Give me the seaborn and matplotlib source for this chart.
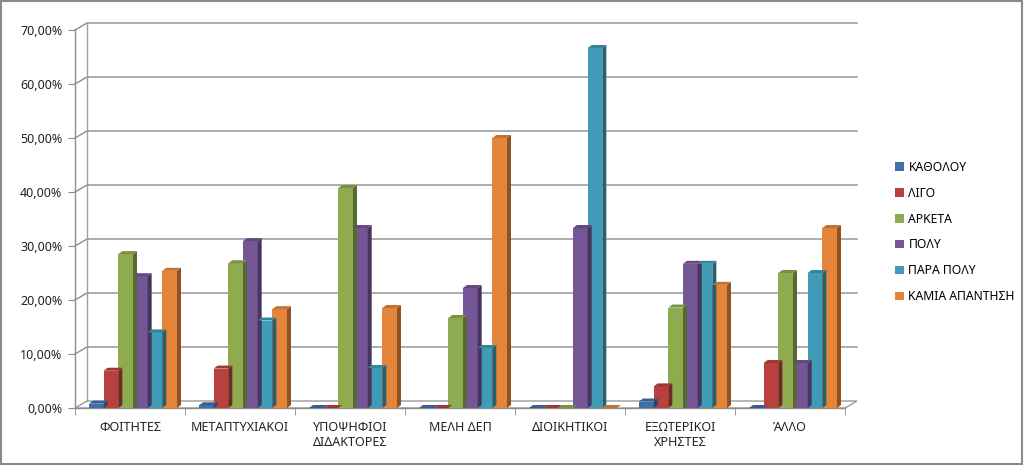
import pandas as pd
import matplotlib.pyplot as plt
import seaborn as sns
from matplotlib.patches import Polygon, Rectangle
from matplotlib.lines import Line2D
from matplotlib.ticker import FuncFormatter
import matplotlib.colors as mcolors

categories = ['ΦΟΙΤΗΤΕΣ', 'ΜΕΤΑΠΤΥΧΙΑΚΟΙ', 'ΥΠΟΨΗΦΙΟΙ\nΔΙΔΑΚΤΟΡΕΣ', 'ΜΕΛΗ ΔΕΠ',
              'ΔΙΟΙΚΗΤΙΚΟΙ', 'ΕΞΩΤΕΡΙΚΟΙ\nΧΡΗΣΤΕΣ', 'ΆΛΛΟ']
series = ['ΚΑΘΟΛΟΥ', 'ΛΙΓΟ', 'ΑΡΚΕΤΑ', 'ΠΟΛΥ', 'ΠΑΡΑ ΠΟΛΥ', 'ΚΑΜΙΑ ΑΠΑΝΤΗΣΗ']

katholou = [0.008, 0.005, 0.0, 0.0, 0.0, 0.012, 0.0]
ligo = [0.069, 0.073, 0.0, 0.0, 0.0, 0.040, 0.0833]
arketa = [0.285, 0.268, 0.4074, 0.1667, 0.0, 0.186, 0.25]
poly = [0.244, 0.309, 0.3333, 0.2222, 0.3333, 0.267, 0.0833]
para_poly = [0.140, 0.162, 0.0741, 0.1111, 0.6667, 0.267, 0.25]
kamia = [0.254, 0.183, 0.1852, 0.50, 0.0, 0.228, 0.3333]

colors = ['#3F6FAD', '#B8413E', '#8FAB4F', '#745696', '#3F9BB6', '#E5853A']

values = [katholou, ligo, arketa, poly, para_poly, kamia]
rows = []
for s, vals in zip(series, values):
    for c, v in zip(categories, vals):
        rows.append({'Κατηγορία': c, 'Απάντηση': s, 'Ποσοστό': v})
df = pd.DataFrame(rows)

plt.rcParams['font.family'] = ['Noto Sans', 'DejaVu Sans']
fig = plt.figure(figsize=(10.24, 4.65), dpi=100)
ax = fig.add_axes([75 / 1024, 57 / 465, 770 / 1024, 378 / 465])

sns.barplot(data=df, x='Κατηγορία', y='Ποσοστό', hue='Απάντηση', order=categories,
            hue_order=series, palette=colors, saturation=1, width=0.8,
            legend=False, ax=ax, zorder=3)
ax.set_xlim(-0.5, 6.5)
ax.set_ylim(0, 0.70)

# depth offsets (pixel -> data)
px_x = 7 / 770
px_y = 0.70 / 378
bdx, bdy = 4 * px_x, 3 * px_y
gdx, gdy = 12 * px_x, 7 * px_y

# nudge bars slightly right, as in the perspective view
for bar in ax.patches:
    bar.set_x(bar.get_x() + 3 * px_x)

# floor and back wall grid
ax.add_patch(Polygon([(-0.5, 0), (6.5, 0), (6.5 + gdx, gdy), (-0.5 + gdx, gdy)],
                     closed=True, facecolor='white', edgecolor='#9a9a9a', lw=1,
                     zorder=1, clip_on=False))
for v in [0.1, 0.2, 0.3, 0.4, 0.5, 0.6, 0.7]:
    ax.add_line(Line2D([-0.5, -0.5 + gdx, 6.5 + gdx], [v, v + gdy, v + gdy],
                       color='#8c8c8c', lw=1, zorder=1, clip_on=False))
ax.add_line(Line2D([-0.5 + gdx, -0.5 + gdx], [gdy, 0.7 + gdy],
                   color='#a0a0a0', lw=1, zorder=1, clip_on=False))

# 3D faces on each bar
for cont, col in zip(ax.containers, colors):
    rgb = mcolors.to_rgb(col)
    dark = tuple(c * 0.62 for c in rgb)
    light = tuple(c * 0.85 for c in rgb)
    for bar in cont:
        x0, w, h = bar.get_x(), bar.get_width(), bar.get_height()
        ax.add_patch(Polygon([(x0 + w, 0), (x0 + w, h), (x0 + w + bdx, h + bdy),
                              (x0 + w + bdx, bdy)], closed=True, facecolor=dark,
                             edgecolor='none', zorder=3, clip_on=False))
        ax.add_patch(Polygon([(x0, h), (x0 + w, h), (x0 + w + bdx, h + bdy),
                              (x0 + bdx, h + bdy)], closed=True, facecolor=light,
                             edgecolor='none', zorder=3, clip_on=False))

# axes styling
for s in ['top', 'right']:
    ax.spines[s].set_visible(False)
for s in ['left', 'bottom']:
    ax.spines[s].set_color('#8c8c8c')
    ax.spines[s].set_linewidth(1)
ax.set_xlabel('')
ax.set_ylabel('')
ax.set_yticks([0, 0.1, 0.2, 0.3, 0.4, 0.5, 0.6, 0.7])
ax.yaxis.set_major_formatter(FuncFormatter(lambda v, p: f'{v * 100:.2f}%'.replace('.', ',')))
ax.tick_params(axis='y', length=5, color='#8c8c8c', labelsize=9, pad=4, labelcolor='#222222')
ax.set_xticks(range(len(categories)))
ax.set_xticklabels(categories)
ax.set_xticks([i - 0.5 for i in range(len(categories) + 1)], minor=True)
ax.tick_params(axis='x', which='major', length=0, labelsize=9, pad=9, labelcolor='#222222')
ax.tick_params(axis='x', which='minor', length=5, color='#8c8c8c')
ax.set_facecolor('none')
ax.grid(False)

handles = [Rectangle((0, 0), 1, 1, facecolor=c) for c in colors]
fig.legend(handles, series, loc='center left', bbox_to_anchor=(884 / 1024, 1 - 232 / 465),
           frameon=False, fontsize=8.8, handlelength=0.7, handleheight=0.7,
           handletextpad=0.4, labelspacing=1.05)

fig.patches.append(Rectangle((0.001, 0.002), 0.997, 0.995, transform=fig.transFigure,
                             fill=False, edgecolor='#8a8a8a', lw=1.5))

fig.savefig('out.png', dpi=100)
